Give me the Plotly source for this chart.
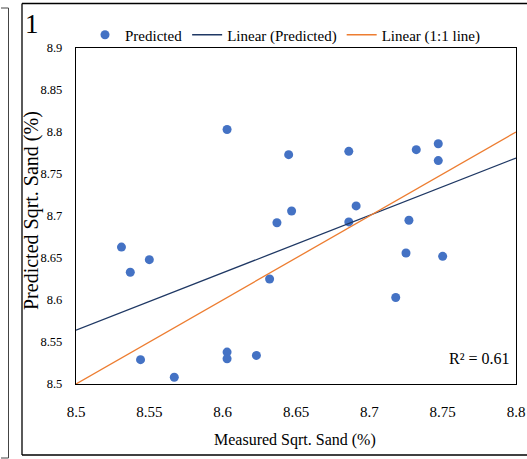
import plotly.graph_objects as go

# ---- data ----
measured = [8.603, 8.645, 8.647, 8.637, 8.531, 8.537, 8.550, 8.632, 8.544, 8.567,
            8.603, 8.603, 8.623, 8.686, 8.732, 8.747, 8.747, 8.691, 8.686, 8.727,
            8.725, 8.750, 8.718]
predicted = [8.803, 8.773, 8.706, 8.692, 8.663, 8.633, 8.648, 8.625, 8.529, 8.508,
             8.538, 8.530, 8.534, 8.777, 8.779, 8.786, 8.766, 8.712, 8.693, 8.695,
             8.656, 8.652, 8.603]
trend_x = [8.5, 8.8]
trend_y = [8.564, 8.769]
one_to_one = [8.5, 8.8]
r2_text = "R² = 0.61"
panel_label = "1"
x_title = "Measured Sqrt. Sand (%)"
y_title = "Predicted Sqrt. Sand (%)"

# target picture is 527 wide; the capture squeezes the page horizontally (~0.982)
K = 527 / 537
W, H = 537, 459
PL, PR, PT, PB = 75, 515, 48, 384          # plot area in target picture pixels
ML, MR, MT, MB = PL / K, W - PR / K, PT, H - PB
PW, PH = W - ML - MR, H - MT - MB


def px(x):
    return (x / K - ML) / PW


def py(y):
    return (H - MB - y) / PH


FONT = "Liberation Serif, Times New Roman, serif"

fig = go.Figure()
fig.add_trace(go.Scatter(x=measured, y=predicted, mode="markers", name="Predicted",
                         marker=dict(color="#4472C4", size=9)))
fig.add_trace(go.Scatter(x=trend_x, y=trend_y, mode="lines", name="Linear (Predicted)",
                         line=dict(color="#1F3864", width=1.3)))
fig.add_trace(go.Scatter(x=one_to_one, y=one_to_one, mode="lines", name="Linear (1:1 line)",
                         line=dict(color="#ED7D31", width=1.3)))

axis_common = dict(showgrid=False, zeroline=False, showline=True, mirror=True,
                   linecolor="black", linewidth=1.3, ticks="")
fig.update_xaxes(range=[8.5, 8.8], dtick=0.05, tick0=8.5, ticklabelstandoff=14,
                 tickfont=dict(family=FONT, size=15, color="black"), **axis_common)
fig.update_yaxes(range=[8.5, 8.9], dtick=0.05, tick0=8.5, ticklabelstandoff=10,
                 tickfont=dict(family=FONT, size=12.5, color="black"), **axis_common)


def seg(x0, y0, x1, y1, color="black", width=1.3):
    return dict(type="line", xref="paper", yref="paper", x0=px(x0), x1=px(x1),
                y0=py(y0), y1=py(y1), line=dict(color=color, width=width))


shapes = [
    # outer panel frame (right side lies beyond the picture)
    seg(21, 3.5, 527, 3.5),
    seg(21, 3.5, 21, 455),
    seg(21, 455, 527, 455),
    # neighbouring panel edge on the left
    seg(7.5, 8, 7.5, 458, color="#444", width=1),
    seg(0, 8, 7.5, 8, color="#444", width=1),
    seg(0, 458, 7.5, 458, color="#444", width=1),
]

annotations = [
    dict(text=panel_label, xref="paper", yref="paper", x=px(31), y=py(24), showarrow=False,
         xanchor="center", yanchor="middle", font=dict(family=FONT, size=27, color="black")),
    dict(text=r2_text, xref="paper", yref="paper", x=px(511), y=py(358), showarrow=False,
         xanchor="right", yanchor="middle", font=dict(family=FONT, size=16, color="black")),
    dict(text=x_title, xref="paper", yref="paper", x=px(294), y=py(440), showarrow=False,
         xanchor="center", yanchor="middle", font=dict(family=FONT, size=16, color="black")),
    dict(text=y_title, xref="paper", yref="paper", x=px(30), y=py(211), showarrow=False,
         textangle=-90, xanchor="center", yanchor="middle",
         font=dict(family=FONT, size=20, color="black")),
]

fig.update_layout(
    width=W, height=H,
    margin=dict(l=ML, r=MR, t=MT, b=MB),
    plot_bgcolor="white", paper_bgcolor="white",
    font=dict(family=FONT, color="black"),
    showlegend=True,
    legend=dict(orientation="h", x=px(84), y=py(35), xanchor="left", yanchor="middle",
                font=dict(family=FONT, size=15, color="black"), bgcolor="rgba(0,0,0,0)",
                itemwidth=30, tracegroupgap=0),
    shapes=shapes,
    annotations=annotations,
)

fig.write_html("out.html",
               config={"displayModeBar": False, "responsive": False},
               post_script="document.body.style.margin='0';document.body.style.overflow='hidden';")
